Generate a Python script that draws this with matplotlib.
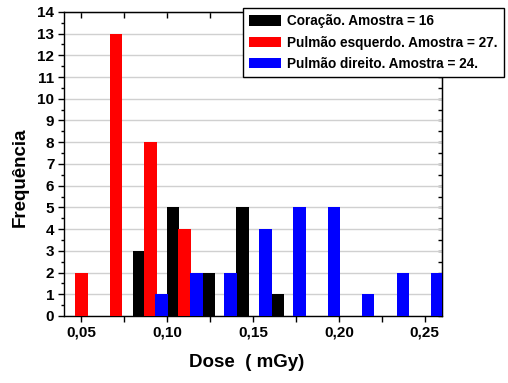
import matplotlib
matplotlib.use("Agg")
import matplotlib.pyplot as plt
from matplotlib.ticker import MultipleLocator, FuncFormatter

plt.rcParams['font.family'] = ['Liberation Sans', 'DejaVu Sans']
plt.rcParams['font.weight'] = 'bold'

# dados
coracao_x = [0.0835, 0.1035, 0.124, 0.1440, 0.1643]
coracao_y = [3, 5, 2, 5, 1]
pulmao_esq_x = [0.0502, 0.0703, 0.0903, 0.1101]
pulmao_esq_y = [2, 13, 8, 4]
pulmao_dir_x = [0.0967, 0.1171, 0.1369, 0.1573, 0.1770, 0.1971, 0.2170, 0.2373, 0.2570]
pulmao_dir_y = [1, 2, 2, 4, 5, 5, 1, 2, 2]
rotulos = ['Coração. Amostra = 16', 'Pulmão esquerdo. Amostra = 27.', 'Pulmão direito. Amostra = 24.']

fig = plt.figure(figsize=(5.08, 3.83), dpi=100)
ax = fig.add_axes([0.126, 0.175, 0.744, 0.794])

w = 0.0072
ax.bar(coracao_x, coracao_y, width=w, color='black', label=rotulos[0], zorder=3)
ax.bar(pulmao_esq_x, pulmao_esq_y, width=w, color='#ff0000', label=rotulos[1], zorder=3)
ax.bar(pulmao_dir_x, pulmao_dir_y, width=w, color='#0000ff', label=rotulos[2], zorder=3)

ax.set_xlim(0.04, 0.26)
ax.set_ylim(0, 14)
ax.yaxis.set_major_locator(MultipleLocator(1))
ax.yaxis.set_minor_locator(MultipleLocator(0.5))
ax.xaxis.set_major_locator(MultipleLocator(0.05))
ax.xaxis.set_minor_locator(MultipleLocator(0.025))
ax.xaxis.set_major_formatter(FuncFormatter(lambda v, p: f'{v:.2f}'.replace('.', ',')))
ax.grid(axis='y', color='#d0d0d0', linewidth=1.0, zorder=0)
ax.set_axisbelow(True)

ax.tick_params(which='major', direction='out', length=4, width=1, labelsize=11, pad=3)
ax.tick_params(which='minor', direction='out', length=2.5, width=1)
ax.tick_params(axis='x', which='minor', length=4)
for lab in ax.get_xticklabels() + ax.get_yticklabels():
    lab.set_fontweight('bold')

top = ax.secondary_xaxis('top')
top.xaxis.set_major_locator(MultipleLocator(0.025))
top.tick_params(direction='in', length=4, width=1, labeltop=False)
right = ax.secondary_yaxis('right')
right.yaxis.set_major_locator(MultipleLocator(0.5))
right.tick_params(direction='in', length=3, width=1, labelright=False)

for s in ax.spines.values():
    s.set_linewidth(1.0)

ax.set_xlabel('Dose  ( mGy)', fontsize=13.5, fontweight='bold')
ax.xaxis.set_label_coords(0.483, -0.125)
ax.set_ylabel('Frequência', fontsize=13.5, fontweight='bold')
ax.yaxis.set_label_coords(-0.092, 0.457)

leg = ax.legend(loc='upper left', bbox_to_anchor=(0.474, 1.013), fontsize=9.8,
                frameon=True, fancybox=False, framealpha=1, edgecolor='black',
                handlelength=2.35, handleheight=0.8, handletextpad=0.45,
                labelspacing=0.55, borderpad=0.45, borderaxespad=0)
leg.get_frame().set_linewidth(1.0)
for t in leg.get_texts():
    t.set_fontweight('bold')
leg.set_zorder(5)

fig.savefig('out.png', dpi=100)
